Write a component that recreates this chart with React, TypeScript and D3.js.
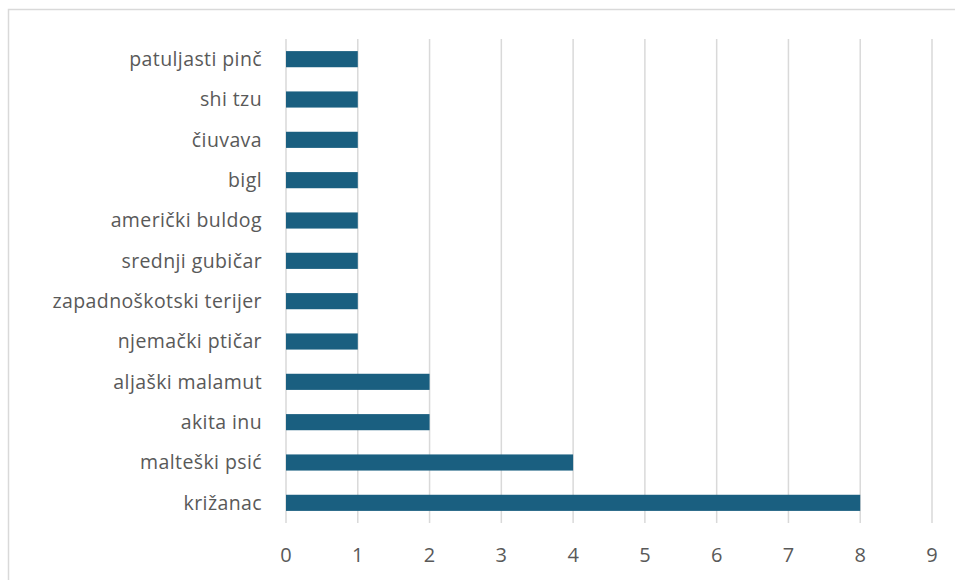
import * as d3 from "d3";

const categories = [
  "patuljasti pinč",
  "shi tzu",
  "čiuvava",
  "bigl",
  "američki buldog",
  "srednji gubičar",
  "zapadnoškotski terijer",
  "njemački ptičar",
  "aljaški malamut",
  "akita inu",
  "malteški psić",
  "križanac",
];
const values = [1, 1, 1, 1, 1, 1, 1, 1, 2, 2, 4, 8];
const xTicks = [0, 1, 2, 3, 4, 5, 6, 7, 8, 9];

const W = 955;
const H = 580;
const plot = { left: 286, right: 932, top: 39, bottom: 523 };

export default function App() {
  const x = d3.scaleLinear().domain([0, 9]).range([plot.left, plot.right]);
  const y = d3
    .scaleBand()
    .domain(categories)
    .range([plot.top, plot.bottom])
    .paddingInner(0.6)
    .paddingOuter(0.3);

  const font = "'Open Sans', 'Liberation Sans', sans-serif";

  return (
    <svg
      width={W}
      height={H}
      style={{ position: "absolute", left: 0, top: 0, background: "#fff" }}
    >
      {/* chart frame */}
      <rect x={8.5} y={9.5} width={960} height={600} fill="#fff" stroke="#d9d9d9" strokeWidth={1.5} />

      {/* gridlines */}
      {xTicks.map((t) => (
        <line
          key={t}
          x1={x(t)}
          x2={x(t)}
          y1={plot.top}
          y2={plot.bottom}
          stroke="#d9d9d9"
          strokeWidth={1.5}
        />
      ))}

      {/* bars */}
      {categories.map((c, i) => (
        <rect
          key={c}
          x={x(0)}
          y={y(c)}
          width={x(values[i]) - x(0)}
          height={y.bandwidth()}
          fill="#1a5f80"
        />
      ))}

      {/* category labels */}
      {categories.map((c) => (
        <text
          key={c}
          x={plot.left - 24}
          y={(y(c) as number) + y.bandwidth() / 2}
          dy="0.35em"
          textAnchor="end"
          fontFamily={font}
          fontSize={19.5}
          letterSpacing={0.4}
          fill="#595959"
        >
          {c}
        </text>
      ))}

      {/* x tick labels */}
      {xTicks.map((t) => (
        <text
          key={t}
          x={x(t)}
          y={555}
          dy="0.35em"
          textAnchor="middle"
          fontFamily={font}
          fontSize={20}
          fill="#595959"
        >
          {t}
        </text>
      ))}
    </svg>
  );
}
